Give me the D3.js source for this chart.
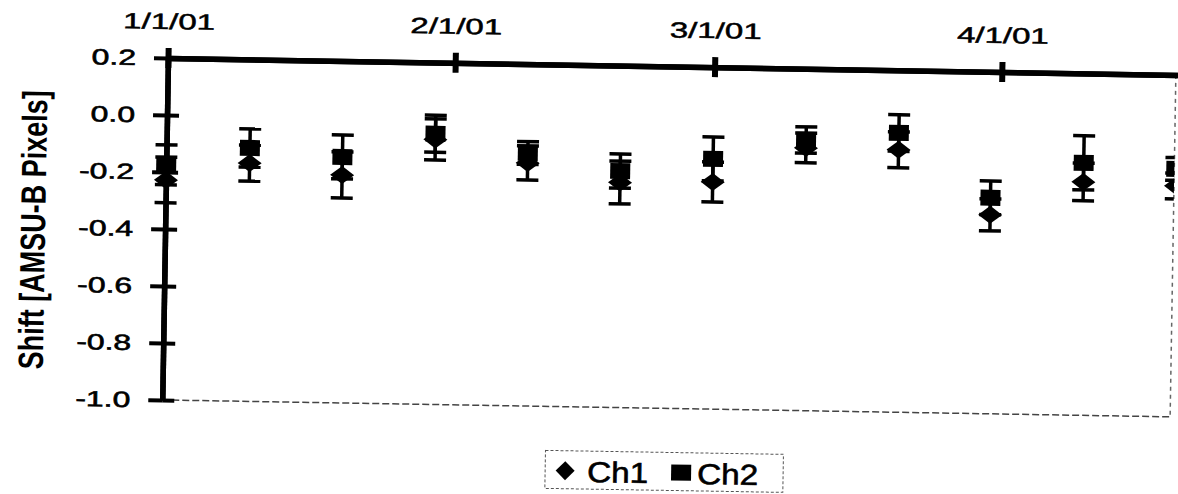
<!DOCTYPE html>
<html>
<head>
<meta charset="utf-8">
<script src="https://cdn.jsdelivr.net/npm/d3@7"></script>
<style>
  body { margin: 0; background: #fff; }
  svg { display: block; font-family: "Liberation Sans", Arial, sans-serif; }
</style>
</head>
<body>
<svg id="chart" width="1178" height="494"></svg>
<script>
// data (every ~10 days)
const dates = ["2001-01-01", "2001-01-10", "2001-01-20", "2001-01-30", "2001-02-09", "2001-02-19",
               "2001-03-01", "2001-03-11", "2001-03-21", "2001-03-31", "2001-04-10", "2001-04-20"];
const ch1 = [-0.228, -0.164, -0.200, -0.070, -0.147, -0.210, -0.203, -0.078, -0.079, -0.302, -0.181, -0.190];
const ch2 = [-0.175, -0.111, -0.137, -0.050, -0.112, -0.170, -0.122, -0.050, -0.020, -0.242, -0.114, -0.130];
const err1 = [0.080, 0.063, 0.081, 0.072, 0.060, 0.075, 0.070, 0.052, 0.063, 0.056, 0.066, 0.045];
const err2 = [0.070, 0.067, 0.077, 0.065, 0.040, 0.060, 0.077, 0.046, 0.064, 0.059, 0.095, 0.040];
const monthTicks = ["2001-01-01", "2001-02-01", "2001-03-01", "2001-04-01"];
const yTicks = [0.2, 0.0, -0.2, -0.4, -0.6, -0.8, -1.0];
const seriesNames = ["Ch1", "Ch2"];

const parse = d3.timeParse("%Y-%m-%d");
const svg = d3.select("#chart");

// the scan is tilted a bit, so the whole chart is turned about the top-left corner
const pLeft = 168, pTop = 58, pRight = 1178, pBottom = 400;
const g = svg.append("g").attr("transform", `rotate(0.96, ${pLeft}, ${pTop})`);

const x = d3.scaleTime()
    .domain([parse("2001-01-01"), parse("2001-04-20")])
    .range([pLeft, pRight]);
const y = d3.scaleLinear().domain([-1.0, 0.2]).range([pBottom, pTop]);

// stretch text sideways, the scanned labels are wider than the font
function stretch(sel, k) {
  sel.each(function() {
    const w = this.getComputedTextLength();
    d3.select(this).attr("textLength", w * k).attr("lengthAdjust", "spacingAndGlyphs");
  });
}

// plot border, bottom and right dotted
g.append("line").attr("x1", pLeft).attr("x2", pRight).attr("y1", pBottom).attr("y2", pBottom)
    .attr("stroke", "#444").attr("stroke-width", 1.5).attr("stroke-dasharray", "7,3");
g.append("line").attr("x1", pRight - 2).attr("x2", pRight - 2).attr("y1", pTop).attr("y2", pBottom)
    .attr("stroke", "#666").attr("stroke-width", 1.5).attr("stroke-dasharray", "4,4");

// left axis, ticks cross the line
const yAxisL = g.append("g").attr("transform", `translate(${pLeft},0)`)
    .call(d3.axisLeft(y).tickValues(yTicks).tickSize(14).tickSizeOuter(0).tickPadding(18)
        .tickFormat(d => d.toFixed(1)));
const yAxisR = g.append("g").attr("transform", `translate(${pLeft},0)`)
    .call(d3.axisRight(y).tickValues(yTicks).tickSize(12).tickSizeOuter(0).tickFormat(""));

// top axis at 0.2 with the month ticks
const xAxisT = g.append("g").attr("transform", `translate(0,${pTop})`)
    .call(d3.axisTop(x).tickValues(monthTicks.map(parse)).tickSize(10).tickSizeOuter(0)
        .tickPadding(19).tickFormat(d3.timeFormat("%-m/%-d/%y")));
const xAxisB = g.append("g").attr("transform", `translate(0,${pTop})`)
    .call(d3.axisBottom(x).tickValues(monthTicks.map(parse)).tickSize(10).tickSizeOuter(0)
        .tickFormat(""));

[yAxisL, yAxisR, xAxisT, xAxisB].forEach(a => {
  a.select(".domain").attr("stroke", "#000").attr("stroke-width", 5.5);
});
[yAxisL, yAxisR].forEach(a => a.selectAll(".tick line").attr("stroke", "#000").attr("stroke-width", 4));
[xAxisT, xAxisB].forEach(a => a.selectAll(".tick line").attr("stroke", "#000").attr("stroke-width", 6));

// scanned text is a little heavier, so give it a thin outline
yAxisL.selectAll("text").attr("font-size", 22).attr("fill", "#000")
    .attr("stroke", "#000").attr("stroke-width", 0.6)
    .attr("font-family", "Liberation Sans, Arial, sans-serif").call(stretch, 1.45);
xAxisT.selectAll("text").attr("font-size", 22).attr("fill", "#000")
    .attr("stroke", "#000").attr("stroke-width", 0.5)
    .attr("font-family", "Liberation Sans, Arial, sans-serif").call(stretch, 1.5);

// y title
g.append("text")
    .attr("transform", `translate(48,${(pTop + pBottom) / 2 + 3}) rotate(-90) scale(1,1.3)`)
    .attr("text-anchor", "middle")
    .attr("font-size", 27).attr("font-weight", "bold")
    .text("Shift [AMSU-B Pixels]");

// points
g.append("clipPath").attr("id", "plotclip").append("rect")
    .attr("x", pLeft - 30).attr("y", pTop - 20).attr("width", pRight - 2 - pLeft + 30).attr("height", pBottom - pTop + 40);
const plot = g.append("g").attr("clip-path", "url(#plotclip)");

const pts = dates.map((d, i) => ({ date: parse(d), ch1: ch1[i], ch2: ch2[i], e1: err1[i], e2: err2[i] }));
const capW = 22;

function errorBars(key, ekey) {
  const eb = plot.append("g").selectAll("g").data(pts).enter().append("g")
      .attr("stroke", "#000").attr("stroke-width", 3.5);
  eb.append("line")
      .attr("x1", d => x(d.date)).attr("x2", d => x(d.date))
      .attr("y1", d => y(d[key] + d[ekey])).attr("y2", d => y(d[key] - d[ekey]));
  [1, -1].forEach(s => {
    eb.append("line")
        .attr("x1", d => x(d.date) - capW / 2).attr("x2", d => x(d.date) + capW / 2)
        .attr("y1", d => y(d[key] + s * d[ekey])).attr("y2", d => y(d[key] + s * d[ekey]));
  });
}
errorBars("ch1", "e1");
errorBars("ch2", "e2");

const diamond = (cx, cy, w, h) => `M${cx},${cy - h / 2}L${cx + w / 2},${cy}L${cx},${cy + h / 2}L${cx - w / 2},${cy}Z`;

plot.append("g").selectAll("path").data(pts).enter().append("path")
    .attr("d", d => diamond(x(d.date), y(d.ch1), 24, 18))
    .attr("fill", "#000");
plot.append("g").selectAll("rect").data(pts).enter().append("rect")
    .attr("x", d => x(d.date) - 10).attr("y", d => y(d.ch2) - 8)
    .attr("width", 20).attr("height", 16)
    .attr("fill", "#000");

// legend
const lg = g.append("g").attr("transform", "translate(552,444)");
lg.append("rect").attr("width", 238).attr("height", 38)
    .attr("fill", "none").attr("stroke", "#555").attr("stroke-width", 1).attr("stroke-dasharray", "3,2");
lg.append("path").attr("d", diamond(20, 20, 19, 19)).attr("fill", "#000");
lg.append("rect").attr("x", 126).attr("y", 12).attr("width", 20).attr("height", 16).attr("fill", "#000");
lg.selectAll("text.lab").data(seriesNames).enter().append("text")
    .attr("class", "lab")
    .attr("x", (d, i) => i === 0 ? 42 : 152)
    .attr("y", 31)
    .attr("font-size", 29)
    .attr("stroke", "#000").attr("stroke-width", 0.6)
    .text(d => d)
    .call(stretch, 1.15);
</script>
</body>
</html>
